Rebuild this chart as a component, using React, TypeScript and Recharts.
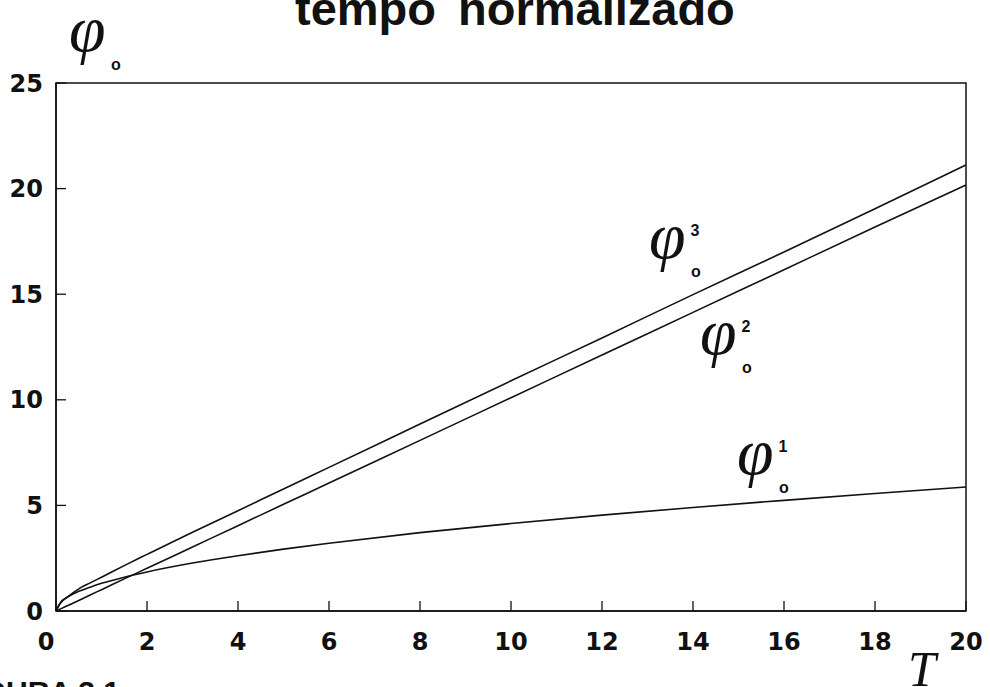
import { Customized, Line, LineChart, ReferenceArea, XAxis, YAxis } from 'recharts';

// normalized time samples and the three potential curves
const tau = [0, 0.1, 0.25, 0.5, 0.75, 1, 1.5, 2, 3, 4, 5, 6, 8, 10, 12, 14, 16, 18, 20];
const phi1 = [0, 0.41, 0.66, 0.93, 1.13, 1.31, 1.6, 1.85, 2.27, 2.62, 2.93, 3.21, 3.71, 4.14, 4.54, 4.9, 5.24, 5.56, 5.87];
const phi2 = [0, 0.1, 0.25, 0.5, 0.76, 1.01, 1.52, 2.02, 3.03, 4.04, 5.05, 6.06, 8.08, 10.1, 12.12, 14.14, 16.16, 18.18, 20.17];
const phi3 = [0, 0.38, 0.66, 1.05, 1.33, 1.6, 2.15, 2.68, 3.73, 4.75, 5.78, 6.8, 8.85, 10.9, 12.93, 14.98, 17.0, 19.05, 21.12];

const xTicks = [0, 2, 4, 6, 8, 10, 12, 14, 16, 18, 20];
const yTicks = [0, 5, 10, 15, 20, 25];

const data = tau.map((t, i) => ({ tau: t, phi1: phi1[i], phi2: phi2[i], phi3: phi3[i] }));

const tickFont = { fontFamily: 'DejaVu Sans', fontWeight: 700, fontSize: 24, fill: '#111' };
const phiFont = { fontFamily: 'Liberation Serif', fontStyle: 'italic', fontSize: 66, fill: '#111' };
const smallFont = { fontFamily: 'Liberation Sans', fontWeight: 700, fontSize: 16, fill: '#111' };

function XTick(props: any) {
  const { x, y, payload } = props;
  const shift = payload.value === 0 ? -10 : 0;
  return (
    <text x={x + shift} y={y} dy="0.71em" textAnchor="middle" {...tickFont}>
      {payload.value}
    </text>
  );
}

// φ with subscript "o" and optional superscript index; left/top = glyph box corner
function PhiLabel({ left, top, sup }: { left: number; top: number; sup?: string }) {
  return (
    <g>
      <text x={left - 3} y={top + 36} {...phiFont}>φ</text>
      {sup && <text x={left + 43} y={top + 14} textAnchor="middle" {...smallFont}>{sup}</text>}
      <text x={left + 44} y={top + 55} textAnchor="middle" {...smallFont}>o</text>
    </g>
  );
}

function Annotations() {
  return (
    <g>
      <text y={25} fontFamily="Liberation Sans" fontWeight={700} fontSize={47} fill="#111">
        <tspan x={295}>tempo</tspan>
        <tspan x={458}>normalizado</tspan>
      </text>
      <PhiLabel left={72} top={15} />
      <PhiLabel left={652} top={222} sup="3" />
      <PhiLabel left={703} top={318} sup="2" />
      <PhiLabel left={740} top={438} sup="1" />
      <text x={908} y={686} fontFamily="Liberation Serif" fontStyle="italic" fontSize={50} fill="#111">T</text>
      <text x={120} y={702} textAnchor="end" fontFamily="Liberation Sans" fontWeight={700} fontSize={30} fill="#111">
        FIGURA 3.1
      </text>
    </g>
  );
}

export default function App() {
  return (
    <div style={{ position: 'absolute', left: 0, top: 0, background: '#fff' }}>
      <LineChart width={990} height={687} data={data} margin={{ top: 83, right: 24, bottom: 46, left: 0 }}>
        <ReferenceArea x1={0} x2={20} y1={0} y2={25} fill="none" stroke="#111" strokeWidth={1.5} ifOverflow="visible" />
        <XAxis
          type="number"
          dataKey="tau"
          domain={[0, 20]}
          ticks={xTicks}
          height={30}
          tickSize={-10}
          tickMargin={32}
          tick={<XTick />}
          axisLine={{ stroke: '#111', strokeWidth: 1.5 }}
          tickLine={{ stroke: '#111', strokeWidth: 1.3 }}
          interval={0}
        />
        <YAxis
          type="number"
          domain={[0, 25]}
          ticks={yTicks}
          width={56}
          tickSize={-10}
          tickMargin={23}
          tick={tickFont}
          axisLine={{ stroke: '#111', strokeWidth: 1.5 }}
          tickLine={{ stroke: '#111', strokeWidth: 1.3 }}
          interval={0}
        />
        <Line type="monotone" dataKey="phi1" stroke="#111" strokeWidth={1.6} dot={false} isAnimationActive={false} />
        <Line type="monotone" dataKey="phi2" stroke="#111" strokeWidth={1.6} dot={false} isAnimationActive={false} />
        <Line type="monotone" dataKey="phi3" stroke="#111" strokeWidth={1.6} dot={false} isAnimationActive={false} />
        <Customized component={<Annotations />} />
      </LineChart>
    </div>
  );
}
